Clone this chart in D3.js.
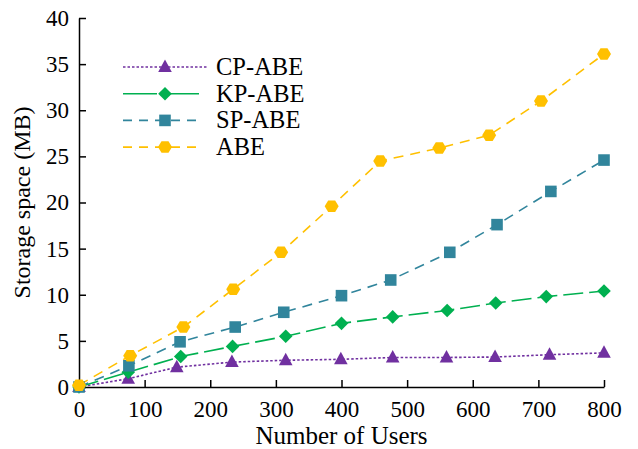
<!DOCTYPE html>
<html>
<head>
<meta charset="utf-8">
<script src="https://cdn.jsdelivr.net/npm/d3@7"></script>
<style>
  body { margin: 0; background: #fff; }
  svg text { font-family: 'Liberation Serif', Tinos, 'Times New Roman', Times, 'DejaVu Serif', serif; fill: #000; }
</style>
</head>
<body>
<div id="chart"></div>
<script>
// Storage space vs number of users
const seriesNames = ['CP-ABE', 'KP-ABE', 'SP-ABE', 'ABE'];

const cpUsers = [0, 75, 149, 233, 315, 399, 478, 560, 634, 717, 800];
const cpStorage = [0, 0.9, 2.15, 2.7, 2.9, 3.0, 3.2, 3.2, 3.25, 3.5, 3.7];

const kpUsers = [0, 75, 155, 234, 315, 400, 478, 561, 635, 712, 800];
const kpStorage = [0, 1.6, 3.3, 4.4, 5.5, 6.9, 7.6, 8.3, 9.1, 9.8, 10.4];

const spUsers = [0, 76, 154, 238, 312, 400, 475, 565, 637, 719, 800];
const spStorage = [0, 2.3, 4.9, 6.5, 8.1, 9.9, 11.6, 14.6, 17.6, 21.2, 24.6];

const abeUsers = [0, 78, 159, 235, 308, 385, 459, 549, 625, 704, 800];
const abeStorage = [0.2, 3.4, 6.5, 10.6, 14.6, 19.6, 24.5, 25.9, 27.3, 31.0, 36.1];

const xTicks = [0, 100, 200, 300, 400, 500, 600, 700, 800];
const yTicks = [0, 5, 10, 15, 20, 25, 30, 35, 40];

const width = 638, height = 449;
const margin = { top: 18, right: 34, bottom: 62, left: 79 };
const serif = "'Liberation Serif', Tinos, 'Times New Roman', Times, 'DejaVu Serif', serif";

const svg = d3.select('#chart')
    .append('svg')
    .attr('width', width)
    .attr('height', height);

const x = d3.scaleLinear().domain([0, 800]).range([margin.left, width - margin.right]);
const y = d3.scaleLinear().domain([0, 40]).range([height - margin.bottom, margin.top]);

// series styles
const styles = [
    { color: '#7030A0', dash: '2.5,2', marker: 'triangle' },
    { color: '#00B050', dash: '20,6', marker: 'diamond' },
    { color: '#31859C', dash: '10,7', marker: 'square' },
    { color: '#FFC000', dash: '10,7', marker: 'hexagon' }
];

const series = [
    cpUsers.map((u, i) => [u, cpStorage[i]]),
    kpUsers.map((u, i) => [u, kpStorage[i]]),
    spUsers.map((u, i) => [u, spStorage[i]]),
    abeUsers.map((u, i) => [u, abeStorage[i]])
];

function markerPath(type) {
    if (type === 'triangle') return 'M0,-7.5L6.8,5L-6.8,5Z';
    if (type === 'diamond') return 'M0,-6.8L6.8,0L0,6.8L-6.8,0Z';
    if (type === 'square') return 'M-5.8,-5.8H5.8V5.8H-5.8Z';
    // hexagon, pointy left/right
    const r = 7;
    const pts = d3.range(6).map(k => {
        const a = Math.PI / 3 * k;
        return [r * Math.cos(a), r * Math.sin(a) * 0.95];
    });
    return 'M' + pts.map(p => p.join(',')).join('L') + 'Z';
}

// axes
const xAxis = d3.axisBottom(x).tickValues(xTicks).tickSizeInner(-7).tickSizeOuter(0).tickPadding(14);
const yAxis = d3.axisLeft(y).tickValues(yTicks).tickSizeInner(-7).tickSizeOuter(0).tickPadding(10);

const gx = svg.append('g')
    .attr('transform', `translate(0,${y(0)})`)
    .call(xAxis);
const gy = svg.append('g')
    .attr('transform', `translate(${x(0)},0)`)
    .call(yAxis);

[gx, gy].forEach(g => {
    g.attr('font-family', serif);
    g.select('.domain').attr('stroke', '#000').attr('stroke-width', 1.5);
    g.selectAll('.tick line').attr('stroke', '#000').attr('stroke-width', 1.5);
    g.selectAll('.tick text')
        .style('font-family', serif)
        .attr('font-size', 23)
        .attr('fill', '#000');
});

// lines
const line = d3.line().x(d => x(d[0])).y(d => y(d[1]));

series.forEach((data, i) => {
    const st = styles[i];
    svg.append('path')
        .datum(data)
        .attr('fill', 'none')
        .attr('stroke', st.color)
        .attr('stroke-width', 1.6)
        .attr('stroke-dasharray', st.dash)
        .attr('d', line);
});

series.forEach((data, i) => {
    const st = styles[i];
    svg.append('g')
        .selectAll('path')
        .data(data)
        .enter()
        .append('path')
        .attr('transform', d => `translate(${x(d[0])},${y(d[1])})`)
        .attr('d', markerPath(st.marker))
        .attr('fill', st.color);
});

// axis titles
svg.append('text')
    .attr('x', (x(0) + x(800)) / 2)
    .attr('y', 444)
    .attr('text-anchor', 'middle')
    .style('font-family', serif)
    .attr('font-size', 25)
    .text('Number of Users');

svg.append('text')
    .attr('transform', `translate(30,${(y(0) + y(40)) / 2}) rotate(-90)`)
    .attr('text-anchor', 'middle')
    .style('font-family', serif)
    .attr('font-size', 24)
    .text('Storage space (MB)');

// legend
const legend = svg.append('g').attr('transform', 'translate(123,67)');
const legendRows = legend.selectAll('.legend-item')
    .data(seriesNames)
    .enter()
    .append('g')
    .attr('class', 'legend-item')
    .attr('transform', (d, i) => `translate(0,${i * 26.7})`);

legendRows.append('line')
    .attr('x1', 0)
    .attr('x2', (d, i) => i === 0 ? 84 : 78)
    .attr('y1', 0)
    .attr('y2', 0)
    .attr('stroke', (d, i) => styles[i].color)
    .attr('stroke-width', 1.6)
    .attr('stroke-dasharray', (d, i) => i === 0 ? '2.5,2' : i === 1 ? '34,8' : '9,7');

legendRows.append('path')
    .attr('transform', 'translate(42,0)')
    .attr('d', (d, i) => markerPath(styles[i].marker))
    .attr('fill', (d, i) => styles[i].color);

legendRows.append('text')
    .attr('x', 93)
    .attr('y', 8)
    .style('font-family', serif)
    .attr('font-size', 24.5)
    .text(d => d);
</script>
</body>
</html>
